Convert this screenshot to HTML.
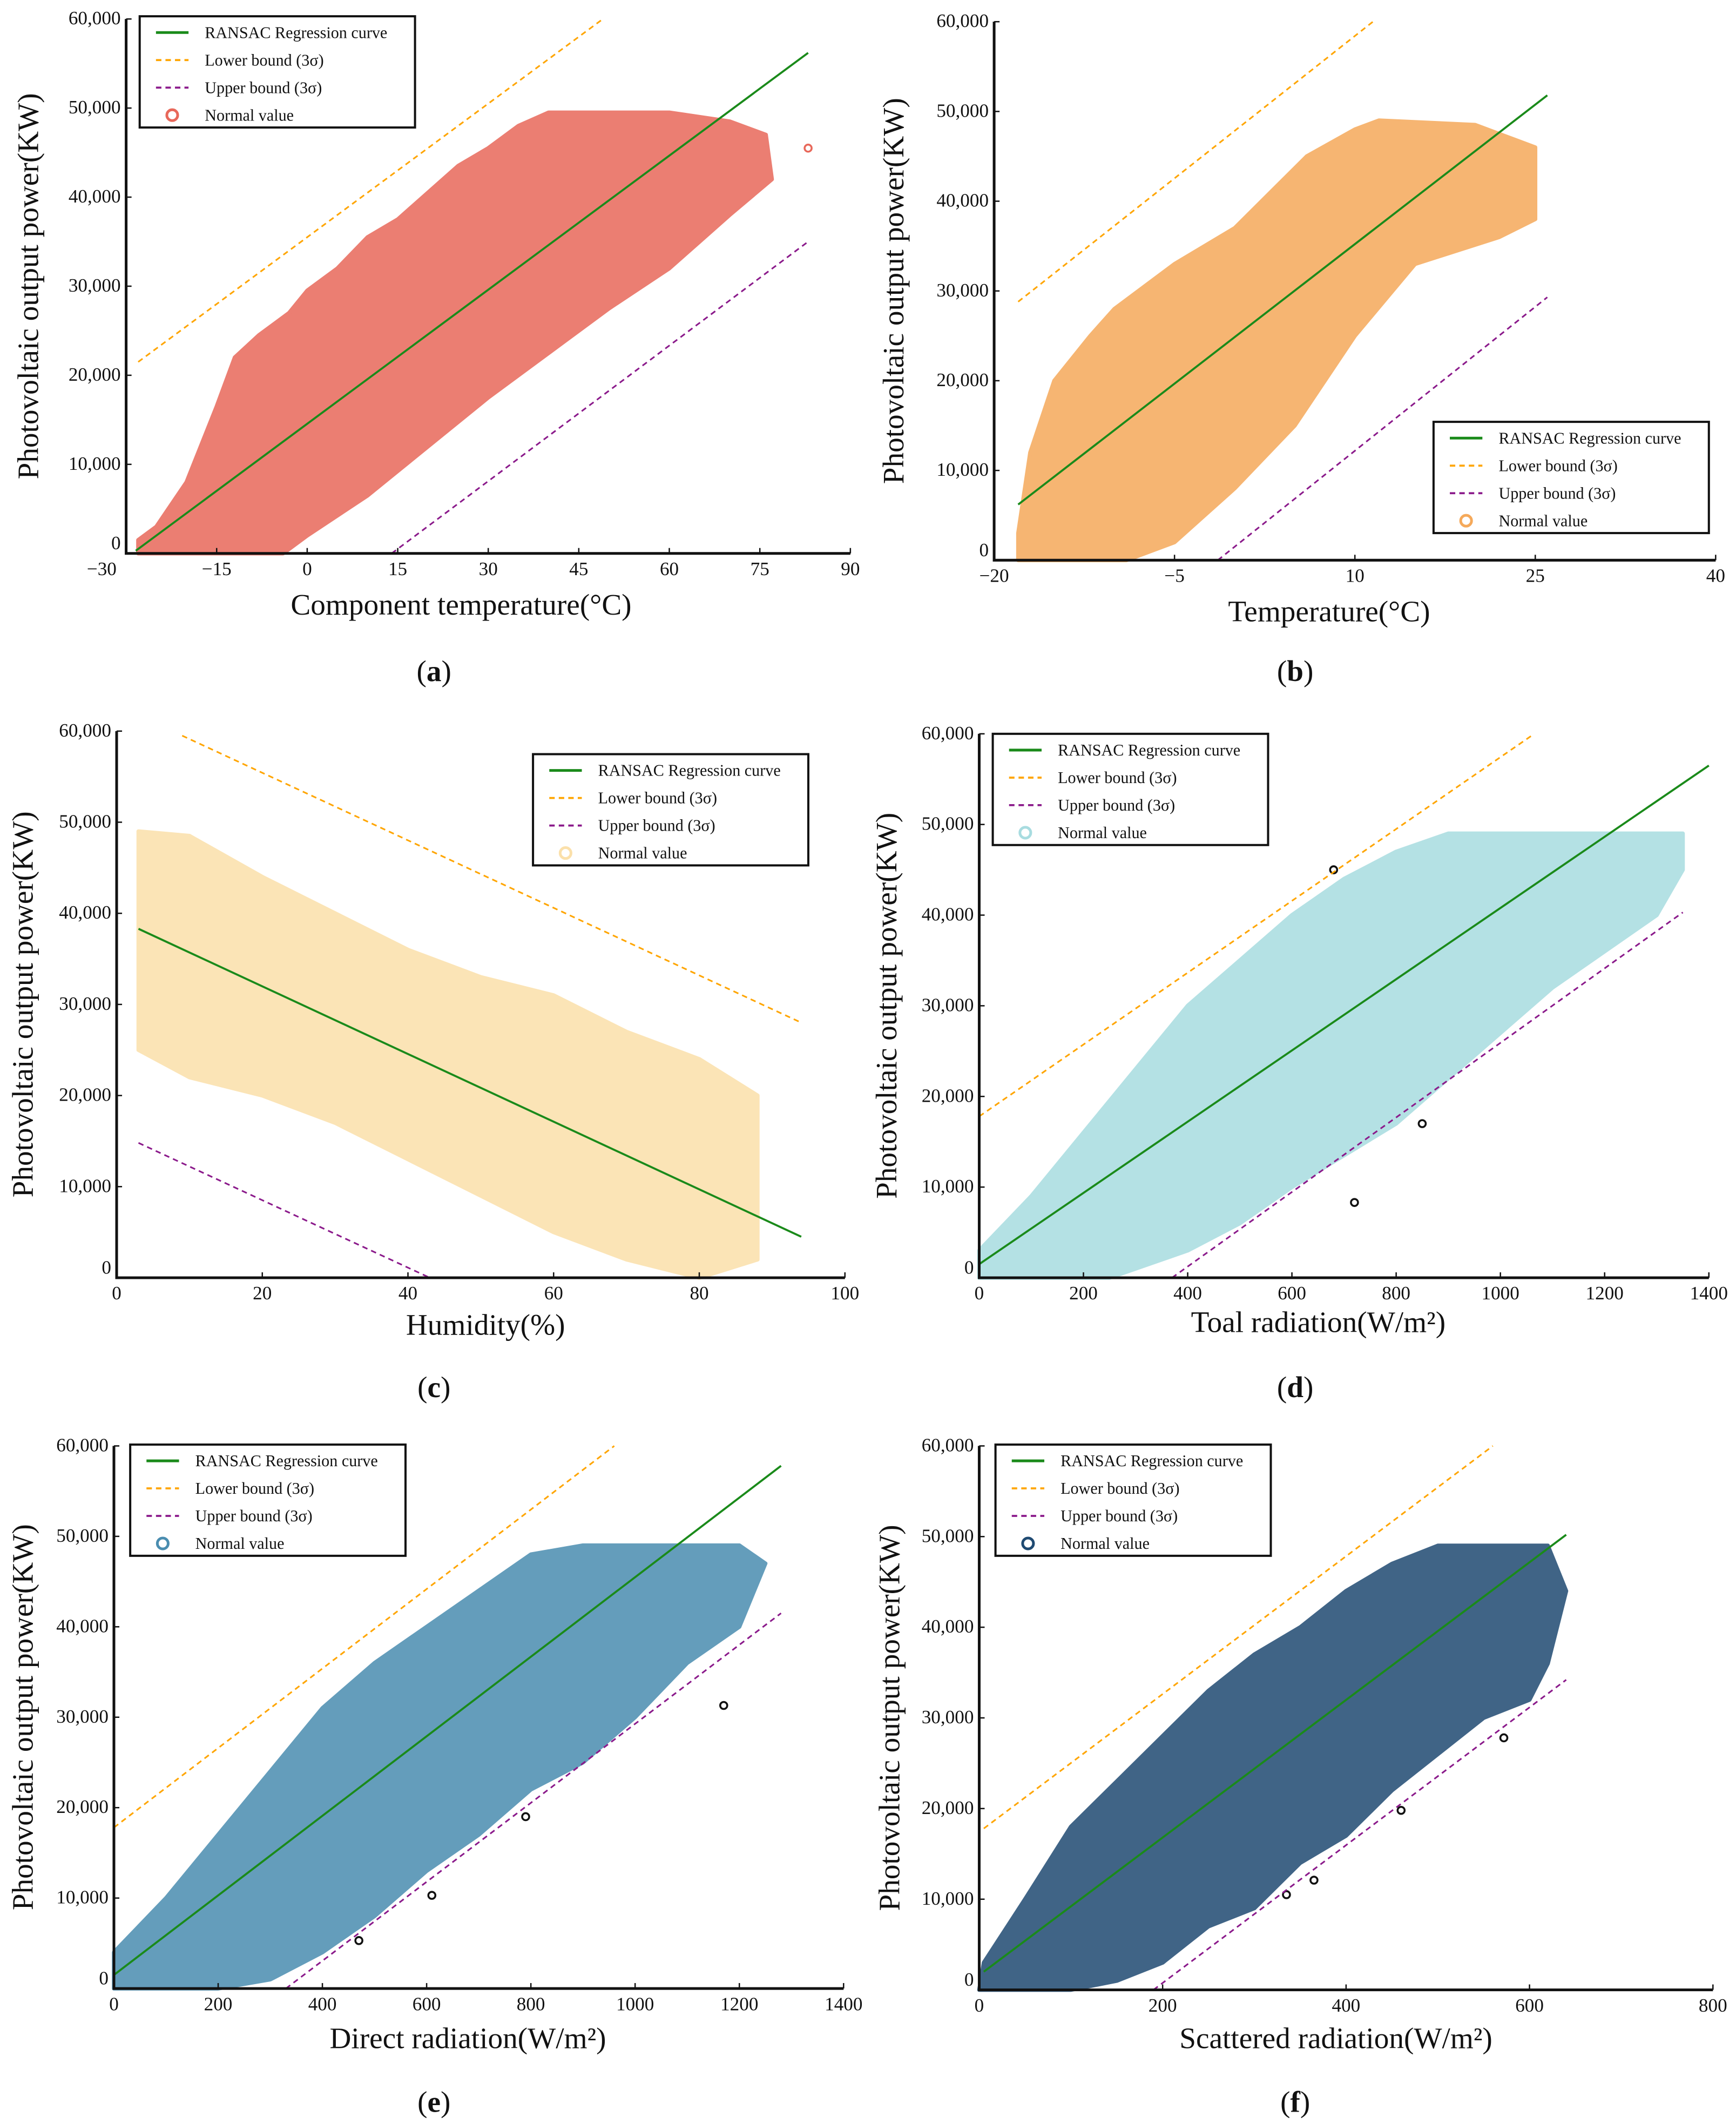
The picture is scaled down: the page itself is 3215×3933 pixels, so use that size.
<!DOCTYPE html>
<html><head><meta charset="utf-8"><style>
html,body{margin:0;padding:0;background:#fff}
svg{display:block}
text{font-family:"Liberation Serif",serif;fill:#111}
</style></head><body>
<svg id="fig" width="3215" height="3933" viewBox="0 0 1280 1565.9" preserveAspectRatio="none" xmlns="http://www.w3.org/2000/svg"></svg>
<script>
// ---- data ----
const yTicks = [0,10000,20000,30000,40000,50000,60000];
const yTickLabels = ["0","10,000","20,000","30,000","40,000","50,000","60,000"];
const xTicksA = [-30,-15,0,15,30,45,60,75,90];
const xTicksB = [-20,-5,10,25,40];
const xTicksC = [0,20,40,60,80,100];
const xTicksD = [0,200,400,600,800,1000,1200,1400];
const xTicksE = [0,200,400,600,800,1000,1200,1400];
const xTicksF = [0,200,400,600,800];
const regA = [[-28.4,300],[83,56200]], lowA = [[-28,21500],[49,60000]], upA = [[14,0],[83,35000]];
const regB = [[-18,6200],[26,51800]], lowB = [[-18,28800],[11.5,60000]], upB = [[-1.4,0],[26,29300]];
const regC = [[3,38300],[94,4500]], lowC = [[9,59500],[94,28000]], upC = [[3,14800],[43,0]];
const regD = [[0,1500],[1400,56500]], lowD = [[0,17800],[1060,59800]], upD = [[370,0],[1350,40300]];
const regE = [[0,1500],[1280,57800]], lowE = [[0,17800],[960,60000]], upE = [[330,0],[1280,41500]];
const regF = [[5,2000],[640,50200]], lowF = [[5,17800],[560,60000]], upF = [[190,0],[640,34200]];
const cloudA = [[-28,0],[-28,1500],[-25,3000],[-20,8000],[-15,16500],[-12,22000],[-8,24500],[-3,27000],[0,29500],[5,32000],[10,35500],[15,37500],[20,40500],[25,43500],[30,45500],[35,48000],[40,49500],[60,49500],[70,48500],[76,47000],[77,42000],[70,38000],[65,35000],[60,32000],[50,27500],[40,22500],[30,17500],[20,12000],[10,6500],[0,2000],[-4,0]];
const cloudB = [[-18,0],[-18,3000],[-17,12000],[-15,20000],[-12,25000],[-10,28000],[-5,33000],[0,37000],[3,41000],[6,45000],[10,48000],[12,49000],[20,48500],[25,46000],[25,38000],[22,36000],[15,33000],[10,25000],[5,15000],[0,8000],[-5,2000],[-9,0]];
const cloudC = [[3,49000],[10,48500],[20,44000],[30,40000],[40,36000],[50,33000],[60,31000],[70,27000],[80,24000],[88,20000],[88,2000],[80,0],[70,2000],[60,5000],[50,9000],[40,13000],[30,17000],[20,20000],[10,22000],[3,25000]];
const cloudD = [[0,0],[0,3000],[100,9000],[200,16000],[300,23000],[400,30000],[500,35000],[600,40000],[700,44000],[800,47000],[900,49000],[1350,49000],[1350,45000],[1300,40000],[1200,36000],[1100,32000],[1000,27000],[900,22000],[800,17000],[600,10000],[500,6000],[400,3000],[250,0]];
const cloudE = [[0,0],[0,4000],[100,10000],[200,17000],[300,24000],[400,31000],[500,36000],[600,40000],[700,44000],[800,48000],[900,49000],[1200,49000],[1250,47000],[1200,40000],[1100,36000],[1000,30000],[900,25000],[800,22000],[700,17000],[600,13000],[500,8000],[400,4000],[300,1000],[200,0]];
const cloudF = [[0,0],[5,3000],[50,10000],[100,18000],[150,23000],[200,28000],[250,33000],[300,37000],[350,40000],[400,44000],[450,47000],[500,49000],[620,49000],[640,44000],[620,36000],[600,32000],[550,30000],[500,26000],[450,22000],[400,17000],[350,14000],[300,9000],[250,7000],[200,3000],[150,1000],[100,0]];
const outA = [[83,45500]];
const outD = [[680,45000],[850,17000],[720,8300]];
const outE = [[470,5300],[610,10300],[790,19000],[1170,31300]];
const outF = [[335,10500],[365,12100],[460,19800],[572,27800]];

const NS="http://www.w3.org/2000/svg";
const svg=document.getElementById('fig');
function mk(tag,attrs,parent){const e=document.createElementNS(NS,tag);for(const k in attrs)e.setAttribute(k,attrs[k]);(parent||svg).appendChild(e);return e;}

const panels=[
 {id:'a',x0:93,x1:627,y0:408,y1:14,xmin:-30,xmax:90,ticks:xTicksA,color:'#E8685A',cloud:cloudA,reg:regA,low:lowA,up:upA,out:outA,outColor:'#E8685A',xl:'Component temperature(°C)',xlx:340,xly:453,ylx:28,pl:'a',plx:320,ply:502,leg:[103,12]},
 {id:'b',x0:733,x1:1265,y0:413,y1:16,xmin:-20,xmax:40,ticks:xTicksB,color:'#F5A95A',cloud:cloudB,reg:regB,low:lowB,up:upB,out:[],xl:'Temperature(°C)',xlx:980,xly:458,ylx:666,pl:'b',plx:955,ply:502,leg:[1057,311]},
 {id:'c',x0:86,x1:623,y0:942,y1:539,xmin:0,xmax:100,ticks:xTicksC,color:'#FBE0AA',cloud:cloudC,reg:regC,low:lowC,up:upC,out:[],xl:'Humidity(%)',xlx:358,xly:984,ylx:24,pl:'c',plx:320,ply:1030,leg:[393,556]},
 {id:'d',x0:722,x1:1260,y0:942,y1:541,xmin:0,xmax:1400,ticks:xTicksD,color:'#A8DCE0',cloud:cloudD,reg:regD,low:lowD,up:upD,out:outD,xl:'Toal radiation(W/m²)',xlx:972,xly:982,ylx:661,pl:'d',plx:955,ply:1030,leg:[732,541]},
 {id:'e',x0:84,x1:622,y0:1466,y1:1066,xmin:0,xmax:1400,ticks:xTicksE,color:'#4A8DB0',cloud:cloudE,reg:regE,low:lowE,up:upE,out:outE,xl:'Direct radiation(W/m²)',xlx:345,xly:1510,ylx:24,pl:'e',plx:320,ply:1557,leg:[96,1065]},
 {id:'f',x0:722,x1:1263,y0:1467,y1:1066,xmin:0,xmax:800,ticks:xTicksF,color:'#1F4A72',cloud:cloudF,reg:regF,low:lowF,up:upF,out:outF,xl:'Scattered radiation(W/m²)',xlx:985,xly:1510,ylx:663,pl:'f',plx:955,ply:1557,leg:[734,1065]}
];

panels.forEach(p=>{
 const g=mk('g',{});
 
 
 const X=v=>p.x0+(v-p.xmin)/(p.xmax-p.xmin)*(p.x1-p.x0);
 const Y=v=>p.y0+(v/60000)*(p.y1-p.y0);
 const cl=mk('polygon',{points:p.cloud.map(d=>X(d[0])+','+Y(d[1])).join(' '),fill:p.color,stroke:p.color,'stroke-width':3,'stroke-linejoin':'round',opacity:0.85},g);
 
 
 p.out.forEach(d=>{
  const c=mk('circle',{cx:X(d[0]),cy:Y(d[1]),r:2.6,fill:'none',stroke:p.outColor||'#111','stroke-width':1.4},g);
  
  
 });
 const ln=(arr,col,dash,w,name)=>{const l=mk('line',{x1:X(arr[0][0]),y1:Y(arr[0][1]),x2:X(arr[1][0]),y2:Y(arr[1][1]),stroke:col,'stroke-width':w},g);if(dash)l.setAttribute('stroke-dasharray',dash);
  
  };
 ln(p.low,'#FFA500','4,3',1.2,'lower-bound-line');
 ln(p.up,'#8B1A8B','4,3',1.2,'upper-bound-line');
 ln(p.reg,'#1A8A1A',null,1.5,'regression-line');
 const ax=mk('path',{d:`M${p.x0},${p.y1} L${p.x0},${p.y0} L${p.x1},${p.y0}`,fill:'none',stroke:'#111','stroke-width':2},g);
 
 
 yTicks.forEach((v,i)=>{
  mk('line',{x1:p.x0,x2:p.x0+4,y1:Y(v),y2:Y(v),stroke:'#111','stroke-width':1},g);
  const t=mk('text',{x:p.x0-4,y:Y(v)+(i===0?-3:4),'text-anchor':'end','font-size':14},g);
  t.textContent=yTickLabels[i];
  
  
 });
 p.ticks.forEach(v=>{
  mk('line',{x1:X(v),x2:X(v),y1:p.y0,y2:p.y0-4,stroke:'#111','stroke-width':1},g);
  const t=mk('text',{x:X(v)+(v===p.xmin&&p.id==='a'?-18:0),y:p.y0+16,'text-anchor':'middle','font-size':14},g);
  t.textContent=String(v).replace('-','−');
  
  
 });
 const xl=mk('text',{x:p.xlx,y:p.xly,'text-anchor':'middle','font-size':22},g);
 xl.textContent=p.xl;
 
 
 const yc=(p.y0+p.y1)/2;
 const yl=mk('text',{x:p.ylx,y:yc,'text-anchor':'middle','font-size':22,transform:`rotate(-90 ${p.ylx} ${yc})`},g);
 yl.textContent='Photovoltaic output power(KW)';
 
 
 const pl=mk('text',{x:p.plx,y:p.ply,'text-anchor':'middle','font-size':22},g);
 pl.innerHTML='(<tspan font-weight="bold">'+p.pl+'</tspan>)';
 
 
 const [lx,ly]=p.leg;
 const lg=mk('g',{},g);
 
 
 mk('rect',{x:lx,y:ly,width:203,height:82,fill:'#fff',stroke:'#111','stroke-width':1.6},lg);
 const items=[['RANSAC Regression curve','#1A8A1A',null],['Lower bound (3σ)','#FFA500','4,3'],['Upper bound (3σ)','#8B1A8B','4,3'],['Normal value',p.color,'dot']];
 items.forEach((it,i)=>{
  const yy=ly+12+i*20.3;
  if(it[2]==='dot'){mk('circle',{cx:lx+24,cy:yy,r:4,fill:'none',stroke:it[1],'stroke-width':2},lg);}
  else{const l=mk('line',{x1:lx+12,x2:lx+36,y1:yy,y2:yy,stroke:it[1],'stroke-width':it[2]?1.5:2},lg);if(it[2])l.setAttribute('stroke-dasharray',it[2]);}
  const t=mk('text',{x:lx+48,y:yy+4,'font-size':12},lg);
  t.textContent=it[0];
  
  
 });
});
</script>
</body></html>
